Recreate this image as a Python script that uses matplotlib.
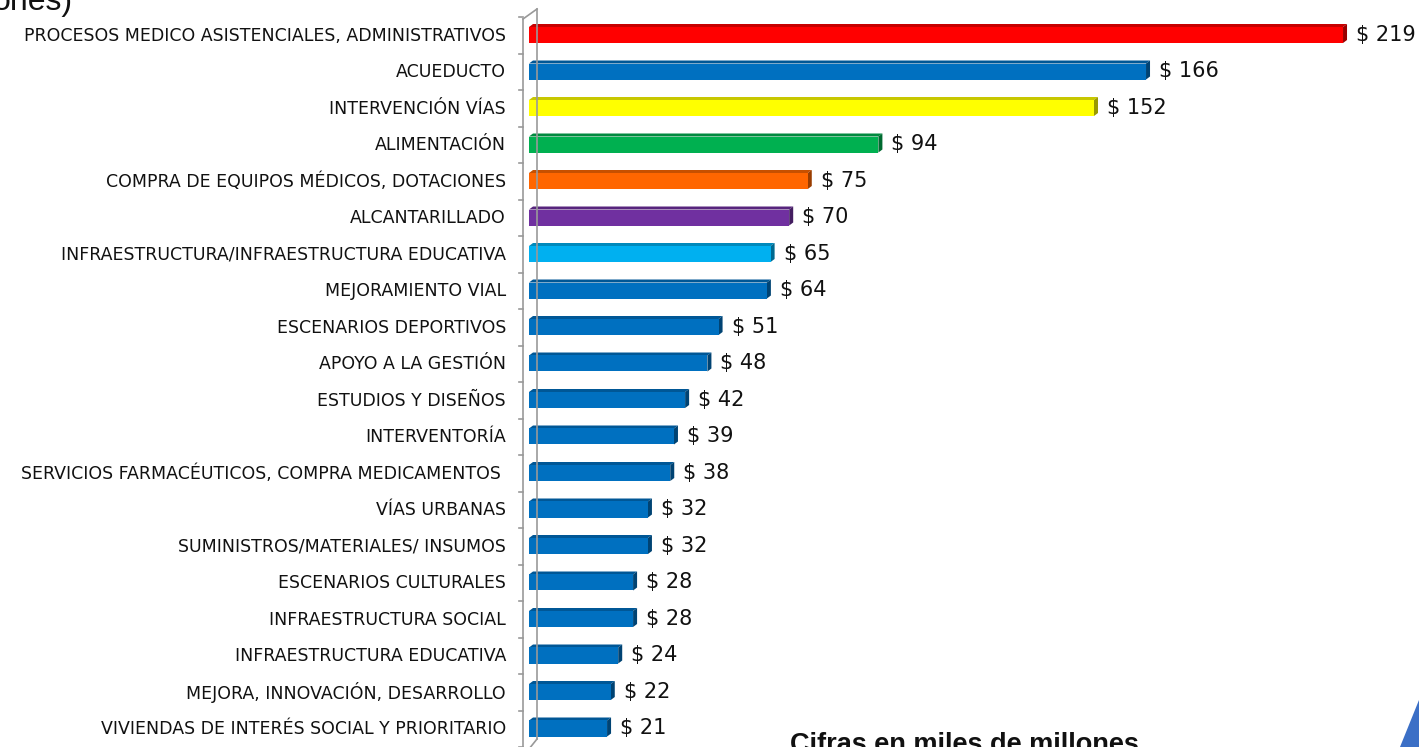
import matplotlib
matplotlib.use("Agg")
import matplotlib.pyplot as plt
from matplotlib.patches import Polygon, Rectangle
import matplotlib.colors as mcolors
from matplotlib.lines import Line2D

categories = [
    "PROCESOS MEDICO ASISTENCIALES, ADMINISTRATIVOS",
    "ACUEDUCTO",
    "INTERVENCIÓN VÍAS",
    "ALIMENTACIÓN",
    "COMPRA DE EQUIPOS MÉDICOS, DOTACIONES",
    "ALCANTARILLADO",
    "INFRAESTRUCTURA/INFRAESTRUCTURA EDUCATIVA",
    "MEJORAMIENTO VIAL",
    "ESCENARIOS DEPORTIVOS",
    "APOYO A LA GESTIÓN",
    "ESTUDIOS Y DISEÑOS",
    "INTERVENTORÍA",
    "SERVICIOS FARMACÉUTICOS, COMPRA MEDICAMENTOS ",
    "VÍAS URBANAS",
    "SUMINISTROS/MATERIALES/ INSUMOS",
    "ESCENARIOS CULTURALES",
    "INFRAESTRUCTURA SOCIAL",
    "INFRAESTRUCTURA EDUCATIVA",
    "MEJORA, INNOVACIÓN, DESARROLLO",
    "VIVIENDAS DE INTERÉS SOCIAL Y PRIORITARIO",
]
values = [219, 166, 152, 94, 75, 70, 65, 64, 51, 48, 42, 39, 38, 32, 32, 28, 28, 24, 22, 21]
colors = ["#FF0000", "#0070C0", "#FFFF00", "#00B050", "#FF6600", "#7030A0", "#00B0F0"] + ["#0070C0"] * 13

W, H = 1419, 747
fig = plt.figure(figsize=(W / 100, H / 100), dpi=100)

px_per_unit = 3.717
x0_px = 529
ax_left = x0_px / W
ax = fig.add_axes([ax_left, 0, 1 - ax_left, (747 - 10) / H])
xmax = (W - x0_px) / px_per_unit
ax.set_xlim(0, xmax)
sp = 36.5
ytop = (10 - 34) / sp
ybot = (747 - 34) / sp
ax.set_ylim(ybot, ytop)
ax.axis("off")

h = 16 / sp
dx = 4 / px_per_unit
dy = 3 / sp

def darker(c, f=0.7):
    r, g, b = mcolors.to_rgb(c)
    return (r * f, g * f, b * f)

font_lbl = ["Liberation Sans Narrow", "DejaVu Sans"]
for i, (cat, v, c) in enumerate(zip(categories, values, colors)):
    top = i - h / 2 + 1 / sp
    ax.add_patch(Polygon([(0, top), (v, top), (v + dx, top - dy), (dx, top - dy)],
                         closed=True, facecolor=darker(c, 0.78), edgecolor="none"))
    ax.add_patch(Polygon([(v, top), (v + dx, top - dy), (v + dx, top + h - dy), (v, top + h)],
                         closed=True, facecolor=darker(c, 0.6), edgecolor="none"))
    ax.add_patch(Rectangle((0, top), v, h, facecolor=c, edgecolor="none"))
    ax.text(v + 13 / px_per_unit, i + 0.02, f"$ {v}", ha="left", va="center",
            fontsize=15, family=font_lbl, color="#111111")
    ax.text(-23 / px_per_unit, i + 0.05, cat, ha="right", va="center",
            fontsize=12.5, family=font_lbl, color="#111111", clip_on=False)

# 3D-like axis wall
xf = -6 / px_per_unit
xb = 8 / px_per_unit
ax.add_line(Line2D([xf, xf], [(19 - 34) / sp, (747 - 34) / sp],
                   color="#999999", lw=1.2, clip_on=False))
ax.add_line(Line2D([xb, xb], [(9 - 34) / sp, (739 - 34) / sp],
                   color="#999999", lw=1.2, clip_on=False))
ax.add_line(Line2D([xf, xb], [(19 - 34) / sp, (9 - 34) / sp],
                   color="#999999", lw=1.2, clip_on=False))
ax.add_line(Line2D([xb, xb - 8 / px_per_unit], [(739 - 34) / sp, (749 - 34) / sp],
                   color="#999999", lw=1.2, clip_on=False))
for k in range(len(categories) + 1):
    yk = k - 0.5 + 1.5 / sp
    ax.add_line(Line2D([xf - 4 / px_per_unit, xf], [yk, yk],
                       color="#999999", lw=1.2, clip_on=False))

fig.text(73 / W, 1 - 10 / H, "ones)", ha="right", va="baseline", fontsize=23,
         family=["Liberation Sans", "DejaVu Sans"], color="#111111")
fig.text(790 / W, 1 - 732 / H, "Cifras en miles de millones", ha="left", va="top",
         fontsize=19.5, fontweight="bold", family=["Liberation Sans", "DejaVu Sans"], color="#111111")
fig.patches.append(Polygon([(1419 / W, 1 - 700 / H), (1419 / W, 1 - 747 / H), (1400 / W, 1 - 747 / H)],
                           closed=True, transform=fig.transFigure, facecolor="#3B6FC6", edgecolor="none"))

fig.savefig("out.png", dpi=100)
